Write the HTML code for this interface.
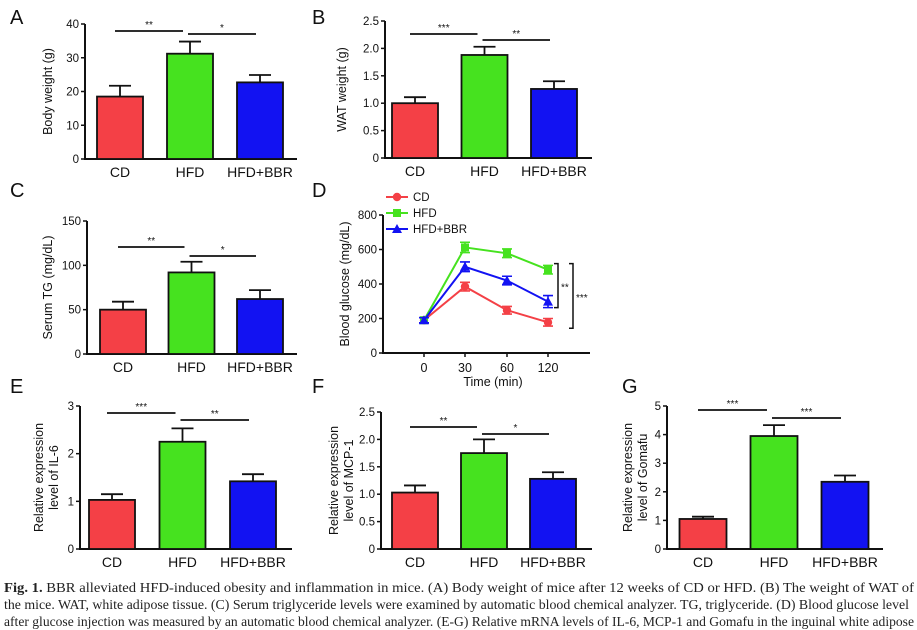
<!DOCTYPE html>
<html><head><meta charset="utf-8"><style>
html,body{margin:0;padding:0;background:#fff}
svg{display:block}
text{font-family:"Liberation Sans",Arial,sans-serif}
.cap{font-family:"Liberation Serif",serif;font-size:13.5px;fill:#222}
</style></head><body>
<svg id="fig" width="917" height="630" viewBox="0 0 917 630" xmlns="http://www.w3.org/2000/svg">
<g id="charts"></g>
<text class="cap" x="4" y="592" textLength="910" lengthAdjust="spacingAndGlyphs"><tspan font-weight="bold">Fig. 1.</tspan> BBR alleviated HFD-induced obesity and inflammation in mice. (A) Body weight of mice after 12 weeks of CD or HFD. (B) The weight of WAT of</text>
<text class="cap" x="4" y="609" textLength="905" lengthAdjust="spacingAndGlyphs">the mice. WAT, white adipose tissue. (C) Serum triglyceride levels were examined by automatic blood chemical analyzer. TG, triglyceride. (D) Blood glucose level</text>
<text class="cap" x="4" y="626" textLength="910" lengthAdjust="spacingAndGlyphs">after glucose injection was measured by an automatic blood chemical analyzer. (E-G) Relative mRNA levels of IL-6, MCP-1 and Gomafu in the inguinal white adipose</text>
</svg>
<script>
const categories = ["CD","HFD","HFD+BBR"];
const colors = ["#f44046","#46e21f","#1212f2"];
const bwMean = [18.5, 31.2, 22.7];
const bwErr = [3.2, 3.6, 2.2];
const bwTicks = ["0","10","20","30","40"];
const watMean = [1.0, 1.88, 1.26];
const watErr = [0.11, 0.15, 0.14];
const watTicks = ["0","0.5","1.0","1.5","2.0","2.5"];
const tgMean = [50, 92, 62];
const tgErr = [9, 12, 10];
const tgTicks = ["0","50","100","150"];
const il6Mean = [1.03, 2.25, 1.42];
const il6Err = [0.12, 0.28, 0.15];
const il6Ticks = ["0","1","2","3"];
const mcpMean = [1.03, 1.75, 1.28];
const mcpErr = [0.13, 0.25, 0.12];
const mcpTicks = ["0","0.5","1.0","1.5","2.0","2.5"];
const gomMean = [1.05, 3.95, 2.35];
const gomErr = [0.08, 0.38, 0.22];
const gomTicks = ["0","1","2","3","4","5"];
const sigA = ["**","*"], sigB = ["***","**"], sigC = ["**","*"], sigE = ["***","**"], sigF = ["**","*"], sigG = ["***","***"];
const timePts = [0,30,60,120];
const timeLabels = ["0","30","60","120"];
const gluCD = [190,385,248,178];
const gluHFD = [190,612,578,483];
const gluBBR = [190,500,420,298];
const gluErrCD = [15,25,22,22];
const gluErrHFD = [15,30,25,25];
const gluErrBBR = [15,28,25,35];
const gluTicks = [0,200,400,600,800];

const NS="http://www.w3.org/2000/svg";
const root=document.getElementById('charts');
function mk(tag,attrs,parent,txt){const e=document.createElementNS(NS,tag);for(const k in attrs)e.setAttribute(k,attrs[k]);if(txt!==undefined)e.textContent=txt;(parent||root).appendChild(e);return e;}

function barPanel(o){
  const g=mk('g',{});
  
  
  const max=parseFloat(o.ticks[o.ticks.length-1]);
  const y=v=>o.y0-(o.y0-o.yTop)*v/max;
  const lt=mk('text',{x:o.lx,y:o.ly,'font-size':20,fill:'#111'},g,o.letter);
  
  
  const ax=mk('path',{d:`M${o.ax},${o.yTop}V${o.y0}H${o.axEnd}`,stroke:'#111','stroke-width':2,fill:'none'},g);
  
  
  o.ticks.forEach(t=>{
    const tv=parseFloat(t);
    mk('line',{x1:o.ax-4,x2:o.ax,y1:y(tv),y2:y(tv),stroke:'#111','stroke-width':1.5},g);
    const tl=mk('text',{x:o.ax-6,y:y(tv)+4,'font-size':11.5,'text-anchor':'end',fill:'#111'},g,t);
    
    
  });
  const bw=o.bw, cx=i=>o.x0+i*o.step;
  o.means.forEach((m,i)=>{
    const b=mk('rect',{x:cx(i)-bw/2,y:y(m),width:bw,height:o.y0-y(m),fill:colors[i],stroke:'#111','stroke-width':1.8},g);
    
    
    const ye=y(m+o.errs[i]);
    mk('path',{d:`M${cx(i)},${y(m)}V${ye}M${cx(i)-11},${ye}H${cx(i)+11}`,stroke:'#111','stroke-width':1.8,fill:'none'},g);
    const cl=mk('text',{x:cx(i),y:o.y0+18,'font-size':14,'text-anchor':'middle',fill:'#111'},g,categories[i]);
    
    
  });
  o.sig.forEach((s,k)=>{
    const x1=cx(k)+(k?-2:-5), x2=cx(k+1)+(k?-4:-7);
    const yy=o.sigY[k];
    mk('line',{x1:x1,x2:x2,y1:yy,y2:yy,stroke:'#111','stroke-width':1.8},g);
    const st=mk('text',{x:(x1+x2)/2,y:yy-3,'font-size':10,'text-anchor':'middle',fill:'#111'},g,s);
    
    
  });
  const yl=mk('text',{transform:`translate(${o.ylx},${(o.y0+o.yTop)/2}) rotate(-90)`,'font-size':12.5,'text-anchor':'middle',fill:'#111'},g);
  
  
  o.ylabel.forEach((l,i)=>mk('tspan',{x:0,dy:i?15:0},yl,l));
}

barPanel({name:'panel-a-body-weight',letter:'A',lx:10,ly:24,ax:85,axEnd:297,y0:159,yTop:24,x0:120,step:70,bw:46,means:bwMean,errs:bwErr,ticks:bwTicks,sig:sigA,sigY:[31,34],ylx:52,ylabel:['Body weight (g)']});
barPanel({name:'panel-b-wat-weight',letter:'B',lx:312,ly:24,ax:385,axEnd:592,y0:158,yTop:21,x0:415,step:69.5,bw:46,means:watMean,errs:watErr,ticks:watTicks,sig:sigB,sigY:[34,40],ylx:346,ylabel:['WAT weight (g)']});
barPanel({name:'panel-c-serum-tg',letter:'C',lx:10,ly:197,ax:87,axEnd:297,y0:354,yTop:221,x0:123,step:68.5,bw:46,means:tgMean,errs:tgErr,ticks:tgTicks,sig:sigC,sigY:[247,256],ylx:52,ylabel:['Serum TG (mg/dL)']});
barPanel({name:'panel-e-il6',letter:'E',lx:10,ly:393,ax:80,axEnd:292,y0:549,yTop:406,x0:112,step:70.5,bw:46,means:il6Mean,errs:il6Err,ticks:il6Ticks,sig:sigE,sigY:[413,420],ylx:43,ylabel:['Relative expression','level of IL-6']});
barPanel({name:'panel-f-mcp1',letter:'F',lx:312,ly:393,ax:381,axEnd:592,y0:549,yTop:412,x0:415,step:69,bw:46,means:mcpMean,errs:mcpErr,ticks:mcpTicks,sig:sigF,sigY:[427,434],ylx:338,ylabel:['Relative expression','level of MCP-1']});
barPanel({name:'panel-g-gomafu',letter:'G',lx:622,ly:393,ax:667,axEnd:883,y0:549,yTop:406,x0:703,step:71,bw:47,means:gomMean,errs:gomErr,ticks:gomTicks,sig:sigG,sigY:[410,418],ylx:632,ylabel:['Relative expression','level of Gomafu']});

// Panel D line chart
(function(){
  const g=mk('g',{});
  
  
  const y0=353,yTop=215,ax=383;
  const y=v=>y0-(y0-yTop)*v/800;
  const xPos=[424,465,507,548];
  const x=i=>xPos[i];
  const lt=mk('text',{x:312,y:197,'font-size':20,fill:'#111'},g,'D');
  
  
  mk('path',{d:`M${ax},${yTop}V${y0}H${590}`,stroke:'#111','stroke-width':2,fill:'none'},g);
  gluTicks.forEach(t=>{
    mk('line',{x1:ax-4,x2:ax,y1:y(t),y2:y(t),stroke:'#111','stroke-width':1.5},g);
    const tl=mk('text',{x:ax-6,y:y(t)+4,'font-size':11.5,'text-anchor':'end',fill:'#111'},g,String(t));
    
    
  });
  timeLabels.forEach((l,i)=>{
    mk('line',{x1:x(i),x2:x(i),y1:y0,y2:y0+4,stroke:'#111','stroke-width':1.5},g);
    const tl=mk('text',{x:x(i),y:y0+19,'font-size':12.5,'text-anchor':'middle',fill:'#111'},g,l);
    
    
  });
  const xt=mk('text',{x:493,y:386,'font-size':12.5,'text-anchor':'middle',fill:'#111'},g,'Time (min)');
  
  
  const yt=mk('text',{transform:`translate(349,${(y0+yTop)/2}) rotate(-90)`,'font-size':12.5,'text-anchor':'middle',fill:'#111'},g,'Blood glucose (mg/dL)');
  
  
  function marker(px,py,shape,c,p){
    if(shape==='c')mk('circle',{cx:px,cy:py,r:4.2,fill:c},p);
    else if(shape==='s')mk('rect',{x:px-4,y:py-4,width:8,height:8,fill:c},p);
    else mk('path',{d:`M${px},${py-5}L${px+5},${py+4}H${px-5}Z`,fill:c},p);
  }
  const series=[['cd',gluCD,gluErrCD,colors[0],'c'],['hfd',gluHFD,gluErrHFD,colors[1],'s'],['hfd-bbr',gluBBR,gluErrBBR,'#1212f2','t']];
  series.forEach(([n,vals,errs,c,sh])=>{
    const sg=mk('g',{},g);
    
    
    mk('polyline',{points:vals.map((v,i)=>x(i)+','+y(v)).join(' '),fill:'none',stroke:c,'stroke-width':2},sg);
    vals.forEach((v,i)=>{
      mk('path',{d:`M${x(i)},${y(v-errs[i])}V${y(v+errs[i])}M${x(i)-5},${y(v-errs[i])}H${x(i)+5}M${x(i)-5},${y(v+errs[i])}H${x(i)+5}`,stroke:c,'stroke-width':1.6,fill:'none'},sg);
      marker(x(i),y(v),sh,c,sg);
    });
  });
  const names=['CD','HFD','HFD+BBR'];
  series.forEach(([n,v,e,c,sh],i)=>{
    const ly=197+i*16;
    const lg=mk('g',{},g);
    
    
    mk('line',{x1:386,x2:408,y1:ly,y2:ly,stroke:c,'stroke-width':2},lg);
    marker(397,ly,sh,c,lg);
    mk('text',{x:413,y:ly+4,'font-size':11.5,fill:'#111'},lg,names[i]);
  });
  function bracket(bx,v1,v2,label){
    const b=mk('g',{},g);
    
    
    mk('path',{d:`M${bx-4},${y(v1)-6}H${bx}V${y(v2)+6}H${bx-4}`,stroke:'#111','stroke-width':1.5,fill:'none'},b);
    mk('text',{x:bx+3,y:(y(v1)+y(v2))/2+5,'font-size':10,fill:'#111'},b,label);
  }
  bracket(558,gluHFD[3],gluBBR[3],'**');
  bracket(573,gluHFD[3],gluCD[3],'***');
})();
</script>
</body></html>
